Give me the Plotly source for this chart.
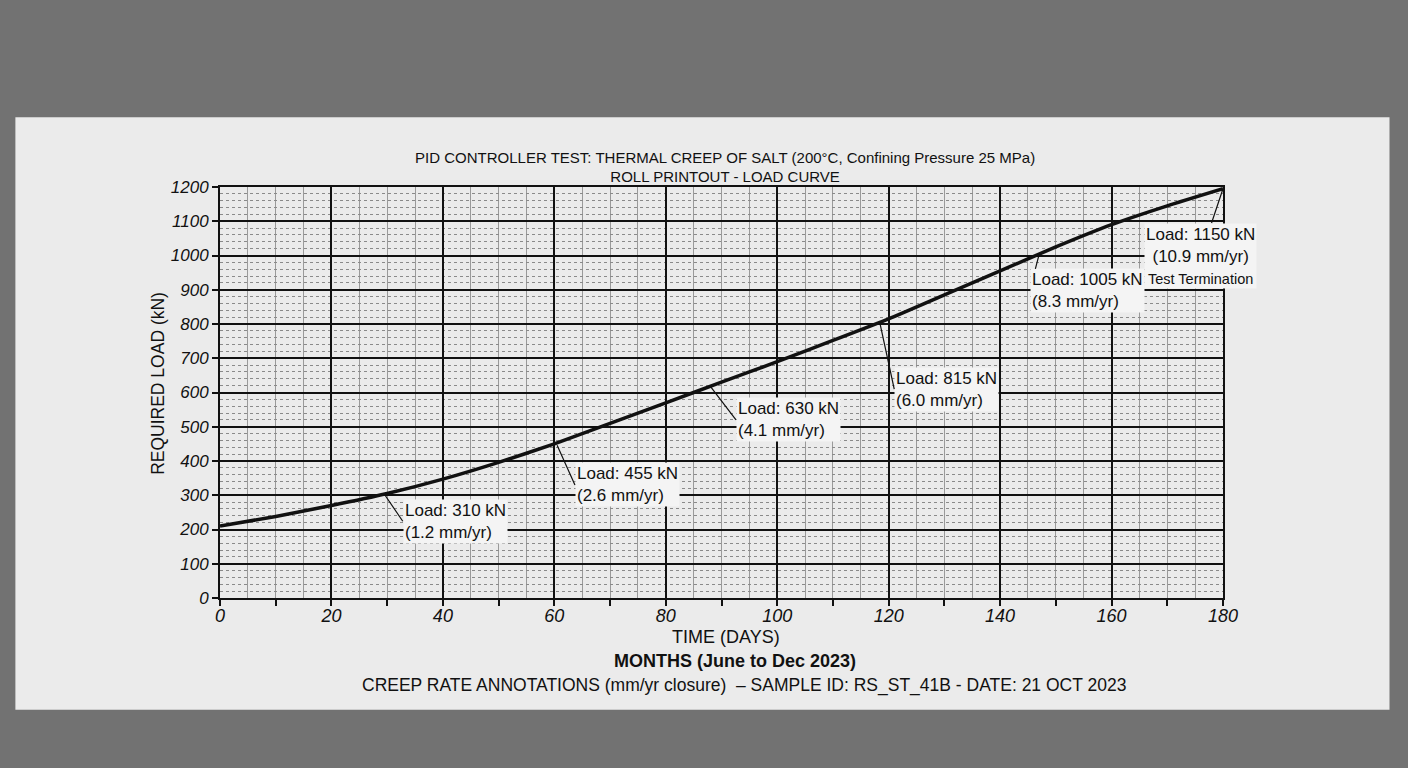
import plotly.graph_objects as go

# load curve
days = [0, 10, 20, 30, 40, 50, 60, 70, 80, 90, 100, 110, 120, 130, 140, 150, 160, 170, 180]
load_kn = [210, 238, 270, 305, 347, 396, 450, 510, 570, 630, 690, 752, 815, 885, 955, 1025, 1090, 1145, 1195]

# annotation anchor points on the curve and where their labels sit
note_day = [29.5, 60.5, 88, 118.4, 147, 180]
note_load = [303, 446, 618, 805, 1003, 1195]
label_day = [32.8, 63.7, 92.6, 121, 145.3, 176]
label_load = [224, 330, 520, 610, 897, 1000]
label_text = [
    "Load: 310 kN<br>(1.2 mm/yr)",
    "Load: 455 kN<br>(2.6 mm/yr)",
    "Load: 630 kN<br>(4.1 mm/yr)",
    "Load: 815 kN<br>(6.0 mm/yr)",
    "Load: 1005 kN<br>(8.3 mm/yr)",
    "Load: 1150 kN<br>(10.9 mm/yr)<br><span style='font-size:14.5px'>Test Termination</span>",
]
label_align = ["left", "left", "left", "left", "left", "center"]

FONT = "Liberation Sans, Arial, sans-serif"
INK = "#111111"


def build_figure():
    fig = go.Figure()
    fig.add_trace(go.Scatter(
        x=days, y=load_kn, mode="lines",
        line=dict(color=INK, width=3.5, shape="spline", smoothing=0.5),
        hoverinfo="skip", showlegend=False,
    ))
    # invisible helper so the tick-only overlay axis gets drawn
    fig.add_trace(go.Scatter(
        x=days, y=load_kn, xaxis="x2", mode="lines",
        line=dict(width=0), hoverinfo="skip", showlegend=False,
    ))

    for nd, nl, ld, ll, txt, al in zip(note_day, note_load, label_day, label_load, label_text, label_align):
        fig.add_annotation(
            x=nd, y=nl, ax=ld, ay=ll, axref="x", ayref="y",
            text=txt, showarrow=True, arrowhead=0, arrowwidth=1.2, arrowcolor=INK,
            xanchor=al, yanchor="middle", align=al,
            bgcolor="#f4f4f4", font=dict(family=FONT, size=17, color=INK),
            borderpad=1,
        )

    # axis title lines below the chart, y title on the left
    text_lines = [
        ("TIME (DAYS)", 0.504, -0.095, 18, 0),
        ("<b>MONTHS (June to Dec 2023)</b>", 0.513, -0.153, 18, 0),
        ("CREEP RATE ANNOTATIONS (mm/yr closure)  – SAMPLE ID: RS_ST_41B - DATE: 21 OCT 2023", 0.522, -0.212, 17.5, 0),
        ("REQUIRED LOAD (kN)", -0.062, 0.523, 17.5, -90),
    ]
    for txt, xp, yp, sz, rot in text_lines:
        fig.add_annotation(
            x=xp, y=yp, xref="paper", yref="paper", text=txt, showarrow=False,
            xanchor="center", yanchor="middle", textangle=rot,
            font=dict(family=FONT, size=sz, color=INK),
        )

    # the paper sheet on the desk
    fig.add_shape(
        type="rect", xref="paper", yref="paper", layer="below",
        x0=-0.204, x1=1.166, y0=-0.272, y1=1.17,
        fillcolor="#ebebeb", line=dict(width=0),
    )

    fig.update_layout(
        width=1408, height=768,
        paper_bgcolor="#727272", plot_bgcolor="#f3f3f3",
        margin=dict(l=220, r=185, t=187, b=170),
        font=dict(family=FONT, color=INK),
        title=dict(
            text="PID CONTROLLER TEST: THERMAL CREEP OF SALT (200°C, Confining Pressure 25 MPa)<br>ROLL PRINTOUT - LOAD CURVE",
            x=0.515, xanchor="center", y=0.788, yanchor="middle",
            font=dict(family=FONT, size=15, color=INK),
        ),
        xaxis=dict(
            range=[0, 180], dtick=20, tick0=0,
            showgrid=True, gridcolor=INK, gridwidth=1.5,
            minor=dict(dtick=5, showgrid=True, gridcolor="#9a9a9a", gridwidth=1),
            showline=True, linecolor=INK, linewidth=2, mirror=True,
            ticks="", tickfont=dict(family=FONT, size=18, color=INK, style="italic"),
            zeroline=False,
        ),
        xaxis2=dict(
            range=[0, 180], overlaying="x", anchor="y", side="bottom",
            tickvals=list(range(0, 181, 10)), ticks="outside", ticklen=7,
            tickcolor=INK, tickwidth=1.5, showticklabels=False,
            showgrid=False, zeroline=False, showline=False,
        ),
        yaxis=dict(
            range=[0, 1200], dtick=100, tick0=0,
            showgrid=True, gridcolor=INK, gridwidth=1.5,
            minor=dict(dtick=20, showgrid=True, gridcolor="#8a8a8a", gridwidth=1, griddash="dot"),
            showline=True, linecolor=INK, linewidth=2, mirror=True,
            ticks="outside", ticklen=6, tickcolor=INK, tickwidth=1.5,
            tickfont=dict(family=FONT, size=17, color=INK, style="italic"),
            zeroline=False,
        ),
    )
    return fig


def main():
    fig = build_figure()
    # drop the default page margin so the 1408x768 figure fills the window
    fig.write_html(
        "out.html",
        config={"displayModeBar": False},
        post_script="document.body.style.margin = '0';",
    )


if __name__ == "__main__":
    main()
